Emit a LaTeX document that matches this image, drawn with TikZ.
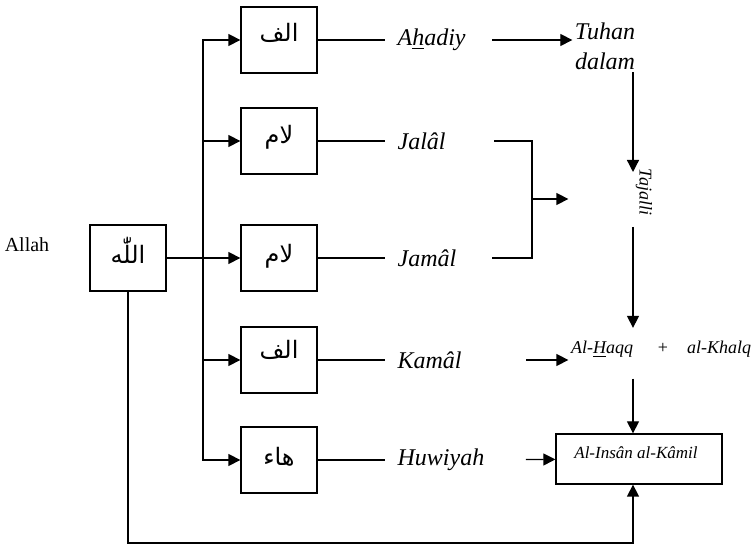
\documentclass[tikz,border=0pt]{standalone}
\usepackage{fontspec}
\setmainfont{Liberation Serif}
\newfontfamily\arabicfont[Script=Arabic]{DejaVu Sans}
\TeXXeTstate=1
\usetikzlibrary{arrows.meta}
\usetikzlibrary{positioning}
\tikzset{>={Triangle[length=6pt,width=6pt]},
         harf/.style = {draw, minimum width=38pt, minimum height=33pt},
         huruf/.style = {font=\arabicfont\fontsize{12}{14}\selectfont, inner sep=1pt},
         sifat/.style = {font=\itshape\fontsize{12}{15}\selectfont, inner xsep=6pt},
         kecil/.style = {font=\itshape\fontsize{9}{11}\selectfont, inner sep=1pt}}

\begin{document}
\begin{tikzpicture}[x=0.5pt, y=-0.5pt, line width=0.65pt]
  \useasboundingbox (0,0) rectangle (755,544);
  % huruf dalam kotak
  \node [font=\fontsize{10}{12}\selectfont] (allahlbl) at (27,245) {Allah};
  \node [harf] (allah) at (128,258) {};
  \node [huruf] (allahtxt) at (128,250) {\beginR اللّٰه\endR};
  \node [harf] (alif1) at (279,40) {};
  \node [huruf] (alif1txt) at (279,33) {\beginR الف\endR};
  \node [harf] (lam1) at (279,141) {};
  \node [huruf] (lam1txt) at (279,137) {\beginR لام\endR};
  \node [harf] (lam2) at (279,258) {};
  \node [huruf] (lam2txt) at (279,256) {\beginR لام\endR};
  \node [harf] (alif2) at (279,360) {};
  \node [huruf] (alif2txt) at (279,350) {\beginR الف\endR};
  \node [harf] (ha) at (279,460) {};
  \node [huruf] (hatxt) at (279,457) {\beginR هاء\endR};
  % sifat
  \node [sifat, anchor=west] (ahadiy) at (385,40) {A\underline{h}adiy};
  \node [sifat, anchor=west] (jalal) at (385,141) {Jalâl};
  \node [sifat, anchor=west] (jamal) at (385,258) {Jamâl};
  \node [sifat, anchor=west] (kamal) at (385,360) {Kamâl};
  \node [sifat, anchor=west] (huwiyah) at (385,460) {Huwiyah};
  \node [sifat, align=center, inner sep=1pt] (tuhan) at (605,46) {Tuhan\\dalam};
  \node [kecil, rotate=-90] (tajalli) at (644,192) {Tajalli};
  \node [kecil, anchor=base] (haqq) at (602,354) {Al-\underline{H}aqq};
  \node [kecil, anchor=base, font=\fontsize{9}{11}\selectfont] (plus) at (663,354) {+};
  \node [kecil, anchor=base] (khalq) at (719,354) {al-Khalq};
  \node [draw, minimum width=83pt, minimum height=25pt] (insan) at (639,459) {};
  \node [kecil, font=\itshape\fontsize{8.5}{10}\selectfont] (insantxt) at (636,453) {Al-Insân al-Kâmil};
  % garis
  \coordinate (fork) at (203,258);
  \coordinate (brk) at (532,199);
  \coordinate (tj1) at (633,172);
  \coordinate (tj2) at (633,227);
  \coordinate (bot) at (633,543);
  \draw [->] (allah) -- (lam2);
  \foreach \b in {alif1,lam1,alif2,ha}
    \draw [->] (fork) |- (\b);
  \foreach \b/\s in {alif1/ahadiy,lam1/jalal,lam2/jamal,alif2/kamal,ha/huwiyah}
    \draw (\b) -- (\s);
  \draw [->, shorten <=7pt] (ahadiy) -- (ahadiy -| tuhan.west);
  \draw [shorten <=18pt, shorten >=11.5pt] (jalal) -| (brk) |- (jamal);
  \draw [->] (brk) -- (brk -| haqq.west);
  \draw [->] (tuhan.south -| tj1) -- (tj1);
  \draw [->, shorten >=5.5pt] (tj2) -- (tj2 |- haqq.north);
  \draw [->, shorten <=26pt] (kamal) -- (kamal -| haqq.west);
  \draw [->, shorten <=9pt] (haqq.south -| tj1) -- (tj1 |- insan.north);
  \draw [->, shorten <=14.5pt] (huwiyah) -- (insan);
  \draw [->] (allah) |- (bot) -- (bot |- insan.south);
\end{tikzpicture}
\end{document}
